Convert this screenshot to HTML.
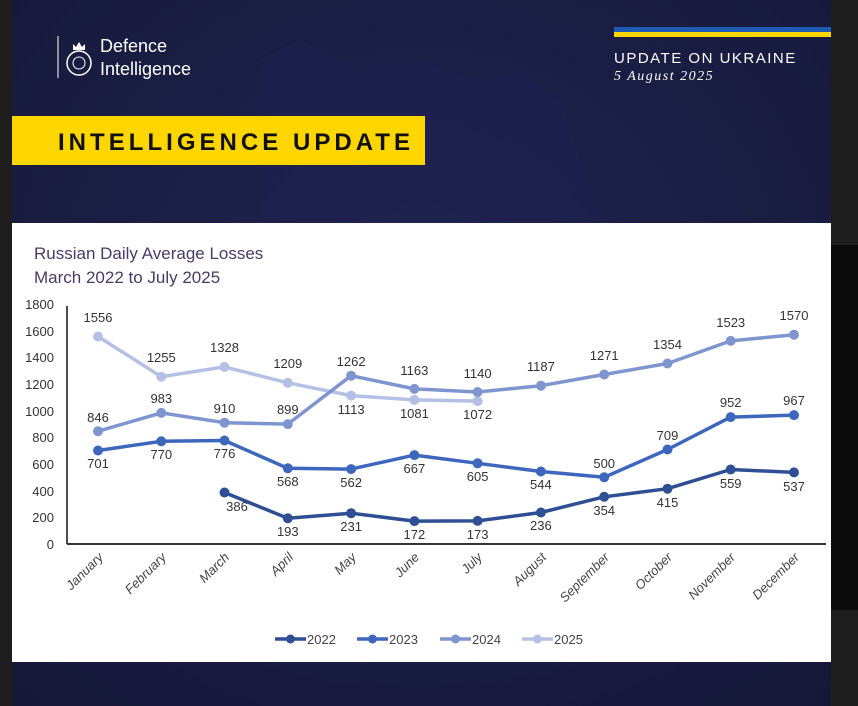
<!DOCTYPE html>
<html><head><meta charset="utf-8"><style>
html,body{margin:0;padding:0;}
body{width:858px;height:706px;position:relative;overflow:hidden;background:#1c1c1c;font-family:"Liberation Sans",sans-serif;}
</style></head><body>
<svg width="858" height="706" viewBox="0 0 858 706" xmlns="http://www.w3.org/2000/svg" style="position:absolute;left:0;top:0">
<defs>
<radialGradient id="bg" cx="0.5" cy="0.4" r="0.8">
<stop offset="0" stop-color="#20244f"/><stop offset="1" stop-color="#151838"/>
</radialGradient>
</defs>
<rect x="0" y="0" width="858" height="706" fill="#1e1e1e"/>
<rect x="831" y="245" width="27" height="365" fill="#0b0b0b"/>
<rect x="12" y="0" width="819" height="706" fill="url(#bg)"/>
<path d="M260 60 L300 40 L360 70 L420 60 L480 80 L520 70 L560 100 L580 160 L600 220 L260 220 Z" fill="#1e2250" opacity="0.6"/>
<!-- logo -->
<line x1="58" y1="36" x2="58" y2="78" stroke="#fff" stroke-width="1"/>
<circle cx="79" cy="63" r="12" fill="none" stroke="#fff" stroke-width="1.5"/>
<circle cx="79" cy="63" r="6" fill="none" stroke="#fff" stroke-width="1"/>
<path d="M73 50 L73 44 L76 47 L79 42 L82 47 L85 44 L85 50 Z" fill="#fff"/>
<text x="100" y="52" font-size="18" fill="#fff" font-family="Liberation Sans">Defence</text>
<text x="100" y="75" font-size="18" fill="#fff" font-family="Liberation Sans">Intelligence</text>
<!-- flag -->
<rect x="614" y="27" width="217" height="5" fill="#1d5bb5"/>
<rect x="614" y="32" width="217" height="5" fill="#fdd600"/>
<text x="614" y="63" font-size="15" fill="#fff" letter-spacing="1.5">UPDATE ON UKRAINE</text>
<text x="614" y="80" font-size="14" fill="#fff" font-style="italic" font-family="Liberation Serif" letter-spacing="1.5">5 August 2025</text>
<!-- ribbon -->
<rect x="12" y="116" width="413" height="49" fill="#fdd600"/>
<text x="58" y="150" font-size="24" font-weight="bold" fill="#111" textLength="352" lengthAdjust="spacing">INTELLIGENCE UPDATE</text>
<!-- chart panel -->
<rect x="12" y="223" width="819" height="439" fill="#fff"/>
<text x="34" y="259" font-size="17" fill="#4a3a66">Russian Daily Average Losses</text>
<text x="34" y="283" font-size="17" fill="#4a3a66">March 2022 to July 2025</text>
<g font-size="13" fill="#333" text-anchor="end">
<text x="54" y="309">1800</text><text x="54" y="336">1600</text><text x="54" y="362">1400</text>
<text x="54" y="389">1200</text><text x="54" y="416">1000</text><text x="54" y="442">800</text>
<text x="54" y="469">600</text><text x="54" y="496">400</text><text x="54" y="522">200</text>
<text x="54" y="549">0</text>
</g>
<line x1="67" y1="306" x2="67" y2="544" stroke="#111" stroke-width="1.5"/>
<line x1="67" y1="544" x2="826" y2="544" stroke="#333" stroke-width="2"/>
<g font-size="13" fill="#444" font-style="italic" text-anchor="end">
<text transform="translate(104,558) rotate(-45)">January</text>
<text transform="translate(167,558) rotate(-45)">February</text>
<text transform="translate(230,558) rotate(-45)">March</text>
<text transform="translate(294,558) rotate(-45)">April</text>
<text transform="translate(357,558) rotate(-45)">May</text>
<text transform="translate(420,558) rotate(-45)">June</text>
<text transform="translate(483,558) rotate(-45)">July</text>
<text transform="translate(547,558) rotate(-45)">August</text>
<text transform="translate(610,558) rotate(-45)">September</text>
<text transform="translate(673,558) rotate(-45)">October</text>
<text transform="translate(736,558) rotate(-45)">November</text>
<text transform="translate(800,558) rotate(-45)">December</text>
</g>
<!-- series -->
<g fill="none" stroke-width="3.5" stroke-linejoin="round">
<polyline stroke="#b4c0e4" points="98,336.5 161.3,376.7 224.5,366.9 287.8,382.8 351.1,395.6 414.4,399.9 477.6,401.1"/>
<polyline stroke="#7f95d0" points="98,431.2 161.3,412.9 224.5,422.7 287.8,424.1 351.1,375.7 414.4,388.9 477.6,392 540.9,385.7 604.2,374.5 667.5,363.5 730.7,340.9 794,334.7"/>
<polyline stroke="#3d66bd" points="98,450.5 161.3,441.3 224.5,440.5 287.8,468.3 351.1,469.1 414.4,455.1 477.6,463.3 540.9,471.5 604.2,477.3 667.5,449.5 730.7,417.1 794,415.1"/>
<polyline stroke="#2e4f94" points="224.5,492.5 287.8,518.3 351.1,513.2 414.4,521.1 477.6,520.9 540.9,512.5 604.2,496.8 667.5,488.7 730.7,469.5 794,472.4"/>
</g>
<g fill="#b4c0e4">
<circle cx="98" cy="336.5" r="5"/><circle cx="161.3" cy="376.7" r="5"/><circle cx="224.5" cy="366.9" r="5"/><circle cx="287.8" cy="382.8" r="5"/><circle cx="351.1" cy="395.6" r="5"/><circle cx="414.4" cy="399.9" r="5"/><circle cx="477.6" cy="401.1" r="5"/>
</g>
<g fill="#7f95d0">
<circle cx="98" cy="431.2" r="5"/><circle cx="161.3" cy="412.9" r="5"/><circle cx="224.5" cy="422.7" r="5"/><circle cx="287.8" cy="424.1" r="5"/><circle cx="351.1" cy="375.7" r="5"/><circle cx="414.4" cy="388.9" r="5"/><circle cx="477.6" cy="392" r="5"/><circle cx="540.9" cy="385.7" r="5"/><circle cx="604.2" cy="374.5" r="5"/><circle cx="667.5" cy="363.5" r="5"/><circle cx="730.7" cy="340.9" r="5"/><circle cx="794" cy="334.7" r="5"/>
</g>
<g fill="#3d66bd">
<circle cx="98" cy="450.5" r="5"/><circle cx="161.3" cy="441.3" r="5"/><circle cx="224.5" cy="440.5" r="5"/><circle cx="287.8" cy="468.3" r="5"/><circle cx="351.1" cy="469.1" r="5"/><circle cx="414.4" cy="455.1" r="5"/><circle cx="477.6" cy="463.3" r="5"/><circle cx="540.9" cy="471.5" r="5"/><circle cx="604.2" cy="477.3" r="5"/><circle cx="667.5" cy="449.5" r="5"/><circle cx="730.7" cy="417.1" r="5"/><circle cx="794" cy="415.1" r="5"/>
</g>
<g fill="#2e4f94">
<circle cx="224.5" cy="492.5" r="5"/><circle cx="287.8" cy="518.3" r="5"/><circle cx="351.1" cy="513.2" r="5"/><circle cx="414.4" cy="521.1" r="5"/><circle cx="477.6" cy="520.9" r="5"/><circle cx="540.9" cy="512.5" r="5"/><circle cx="604.2" cy="496.8" r="5"/><circle cx="667.5" cy="488.7" r="5"/><circle cx="730.7" cy="469.5" r="5"/><circle cx="794" cy="472.4" r="5"/>
</g>
<g font-size="13" fill="#333" text-anchor="middle">
<text x="98" y="322">1556</text><text x="161.3" y="362">1255</text><text x="224.5" y="352">1328</text><text x="287.8" y="368">1209</text>
<text x="351.1" y="414">1113</text><text x="414.4" y="418">1081</text><text x="477.6" y="419">1072</text>
<text x="98" y="422">846</text><text x="161.3" y="403">983</text><text x="224.5" y="413">910</text><text x="287.8" y="414">899</text>
<text x="351.1" y="366">1262</text><text x="414.4" y="375">1163</text><text x="477.6" y="378">1140</text><text x="540.9" y="371">1187</text>
<text x="604.2" y="360">1271</text><text x="667.5" y="349">1354</text><text x="730.7" y="327">1523</text><text x="794" y="320">1570</text>
<text x="98" y="468">701</text><text x="161.3" y="459">770</text><text x="224.5" y="458">776</text><text x="287.8" y="486">568</text>
<text x="351.1" y="487">562</text><text x="414.4" y="473">667</text><text x="477.6" y="481">605</text><text x="540.9" y="489">544</text>
<text x="604.2" y="468">500</text><text x="667.5" y="440">709</text><text x="730.7" y="407">952</text><text x="794" y="405">967</text>
<text x="237" y="511">386</text><text x="287.8" y="536">193</text><text x="351.1" y="531">231</text><text x="414.4" y="539">172</text>
<text x="477.6" y="539">173</text><text x="540.9" y="530">236</text><text x="604.2" y="515">354</text><text x="667.5" y="507">415</text>
<text x="730.7" y="488">559</text><text x="794" y="491">537</text>
</g>
<!-- legend -->
<g font-size="13" fill="#444">
<line x1="275" y1="639" x2="306" y2="639" stroke="#2e4f94" stroke-width="3.5"/><circle cx="290.5" cy="639" r="4.5" fill="#2e4f94"/><text x="307" y="644">2022</text>
<line x1="357" y1="639" x2="388" y2="639" stroke="#3d66bd" stroke-width="3.5"/><circle cx="372.5" cy="639" r="4.5" fill="#3d66bd"/><text x="389" y="644">2023</text>
<line x1="440" y1="639" x2="471" y2="639" stroke="#7f95d0" stroke-width="3.5"/><circle cx="455.5" cy="639" r="4.5" fill="#7f95d0"/><text x="472" y="644">2024</text>
<line x1="522" y1="639" x2="553" y2="639" stroke="#b4c0e4" stroke-width="3.5"/><circle cx="537.5" cy="639" r="4.5" fill="#b4c0e4"/><text x="554" y="644">2025</text>
</g>
</svg>
</body></html>
